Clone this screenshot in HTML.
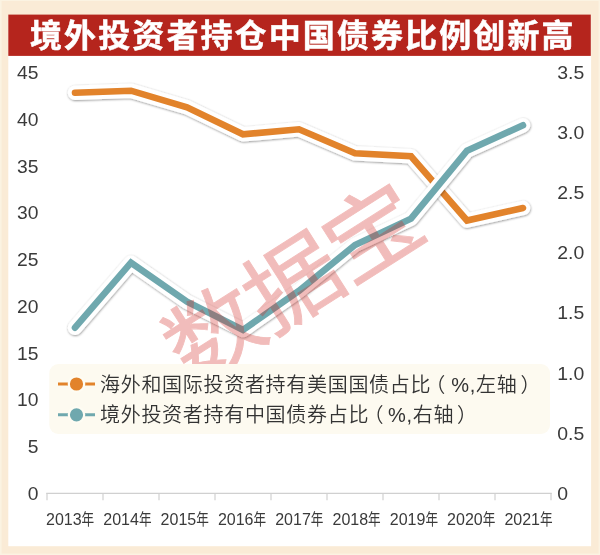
<!DOCTYPE html>
<html lang="zh"><head><meta charset="utf-8"><title>境外投资者持仓中国债券比例创新高</title>
<style>
html,body{margin:0;padding:0;background:#faebd7;}
body{width:600px;height:555px;overflow:hidden;position:relative;font-family:"Liberation Sans","Noto Sans CJK SC",sans-serif;}
svg{position:absolute;left:0;top:0;display:block}
.title{font-family:"Liberation Sans","Noto Sans CJK SC",sans-serif;font-weight:bold;font-size:32px;fill:#fff;stroke:#fff;stroke-width:.5px;letter-spacing:2.1px}
.ax text{font-size:18px;fill:#3a3a3a}
.xl text{font-size:16px;fill:#3a3a3a}
.leg text{font-size:20px;fill:#333;letter-spacing:0.7px;font-weight:350}
.wm{font-size:90px;font-weight:400;fill:#d42620;stroke:#d42620;stroke-width:.9px;opacity:.3;font-family:"Liberation Sans","Noto Sans CJK SC",sans-serif}
</style></head><body>
<svg width="600" height="555" viewBox="0 0 600 555">
<defs>
<filter id="sh" x="-5%" y="-10%" width="110%" height="125%"><feDropShadow dx="0.4" dy="0.8" stdDeviation="1.3" flood-color="#000" flood-opacity=".45"/></filter>
</defs>
<rect width="600" height="555" fill="#fbf3e2"/>
<rect x="1.6" y="1" width="597" height="552.6" fill="#faebd6"/>
<rect x="8.3" y="15" width="582.8" height="531.2" fill="#fff"/>
<rect x="8.3" y="14.6" width="582.5" height="41.3" fill="#b5251d"/>
<text class="title" x="30" y="47">境外投资者持仓中国债券比例创新高</text>
<g class="ax"><text transform="translate(38.5,499.7) scale(1.07,1)" text-anchor="end">0</text><text transform="translate(38.5,453.0) scale(1.07,1)" text-anchor="end">5</text><text transform="translate(38.5,406.2) scale(1.07,1)" text-anchor="end">10</text><text transform="translate(38.5,359.5) scale(1.07,1)" text-anchor="end">15</text><text transform="translate(38.5,312.8) scale(1.07,1)" text-anchor="end">20</text><text transform="translate(38.5,266.0) scale(1.07,1)" text-anchor="end">25</text><text transform="translate(38.5,219.3) scale(1.07,1)" text-anchor="end">30</text><text transform="translate(38.5,172.6) scale(1.07,1)" text-anchor="end">35</text><text transform="translate(38.5,125.8) scale(1.07,1)" text-anchor="end">40</text><text transform="translate(38.5,79.1) scale(1.07,1)" text-anchor="end">45</text><text transform="translate(557.3,499.7) scale(1.08,1)">0</text><text transform="translate(557.3,439.6) scale(1.08,1)">0.5</text><text transform="translate(557.3,379.5) scale(1.08,1)">1.0</text><text transform="translate(557.3,319.4) scale(1.08,1)">1.5</text><text transform="translate(557.3,259.4) scale(1.08,1)">2.0</text><text transform="translate(557.3,199.3) scale(1.08,1)">2.5</text><text transform="translate(557.3,139.2) scale(1.08,1)">3.0</text><text transform="translate(557.3,79.1) scale(1.08,1)">3.5</text></g>
<g stroke="#d0d0d0" stroke-width="1.2" fill="none"><line x1="46.2" y1="493.3" x2="551.8" y2="493.3"/><line x1="47" y1="493.3" x2="47" y2="500.3"/><line x1="103" y1="493.3" x2="103" y2="500.3"/><line x1="159" y1="493.3" x2="159" y2="500.3"/><line x1="215" y1="493.3" x2="215" y2="500.3"/><line x1="271" y1="493.3" x2="271" y2="500.3"/><line x1="327" y1="493.3" x2="327" y2="500.3"/><line x1="383" y1="493.3" x2="383" y2="500.3"/><line x1="439" y1="493.3" x2="439" y2="500.3"/><line x1="495" y1="493.3" x2="495" y2="500.3"/><line x1="551" y1="493.3" x2="551" y2="500.3"/></g>
<g class="xl"><text x="46.0" y="524.6">2013<tspan textLength="12.6" lengthAdjust="spacingAndGlyphs">年</tspan></text><text x="103.3" y="524.6">2014<tspan textLength="12.6" lengthAdjust="spacingAndGlyphs">年</tspan></text><text x="160.6" y="524.6">2015<tspan textLength="12.6" lengthAdjust="spacingAndGlyphs">年</tspan></text><text x="217.9" y="524.6">2016<tspan textLength="12.6" lengthAdjust="spacingAndGlyphs">年</tspan></text><text x="275.2" y="524.6">2017<tspan textLength="12.6" lengthAdjust="spacingAndGlyphs">年</tspan></text><text x="332.5" y="524.6">2018<tspan textLength="12.6" lengthAdjust="spacingAndGlyphs">年</tspan></text><text x="389.8" y="524.6">2019<tspan textLength="12.6" lengthAdjust="spacingAndGlyphs">年</tspan></text><text x="447.1" y="524.6">2020<tspan textLength="12.6" lengthAdjust="spacingAndGlyphs">年</tspan></text><text x="504.4" y="524.6">2021<tspan textLength="12.6" lengthAdjust="spacingAndGlyphs">年</tspan></text></g>
<g fill="none" stroke-linecap="round" stroke-linejoin="round">
<polyline points="75.0,92.7 131.0,90.7 187.0,107.3 243.0,134.3 299.0,129.3 355.0,153.3 411.0,156.3 467.0,220.5 523.0,208.0" stroke="#fff" stroke-width="14.5" filter="url(#sh)"/>
<polyline points="75.0,92.7 131.0,90.7 187.0,107.3 243.0,134.3 299.0,129.3 355.0,153.3 411.0,156.3 467.0,220.5 523.0,208.0" stroke="#e2832b" stroke-width="6.6" stroke-linejoin="miter"/>
<polyline points="75.0,327.7 131.0,262.7 187.0,301.7 243.0,330.0 299.0,290.8 355.0,245.0 411.0,218.7 467.0,150.7 523.0,125.3" stroke="#fff" stroke-width="14.5" filter="url(#sh)"/>
<polyline points="75.0,327.7 131.0,262.7 187.0,301.7 243.0,330.0 299.0,290.8 355.0,245.0 411.0,218.7 467.0,150.7 523.0,125.3" stroke="#6fa8ae" stroke-width="6.6" stroke-linejoin="miter"/>
</g>
<text class="wm" transform="translate(292,283) rotate(-32.5) scale(1.07,1)" text-anchor="middle" x="0" y="33" letter-spacing="-2">数据宝</text>
<rect x="49.3" y="364" width="500.7" height="70" rx="9" fill="#fdfaf0"/>
<g class="leg">
<line x1="58" y1="384" x2="95" y2="384" stroke="#e2832b" stroke-width="3"/>
<circle cx="76.5" cy="384" r="7.7" fill="#e2832b" stroke="#fefcf3" stroke-width="2.2"/>
<line x1="58" y1="414.8" x2="95" y2="414.8" stroke="#6fa8ae" stroke-width="3"/>
<circle cx="76.5" cy="414.8" r="7.7" fill="#6fa8ae" stroke="#fefcf3" stroke-width="2.2"/>
<text x="100" y="391.5">海外和国际投资者持有美国国债占比<tspan x="425.3">（</tspan><tspan x="451.3">%,左轴</tspan><tspan x="520.5">）</tspan></text>
<text x="100" y="422.3">境外投资者持有中国债券占比<tspan x="363.5">（</tspan><tspan x="388">%,右轴</tspan><tspan x="457">）</tspan></text>
</g>
</svg>
</body></html>
